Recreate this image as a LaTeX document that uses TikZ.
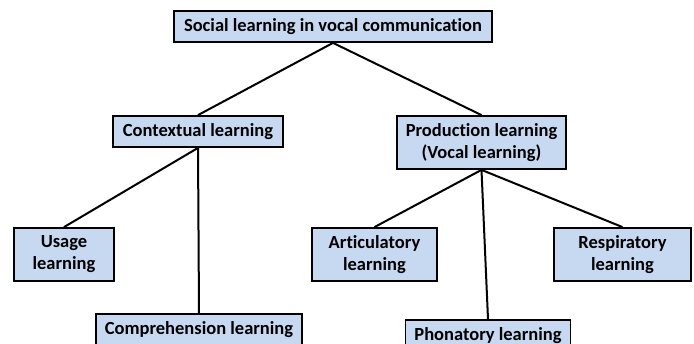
\documentclass[tikz,border=0pt]{standalone}
\usepackage{fontspec}
\setmainfont{Carlito}[Ligatures=NoCommon]
\usetikzlibrary{positioning}
\definecolor{boxblue}{RGB}{198,217,241}

\begin{document}
\begin{tikzpicture}[x=1pt, y=-1pt,
        learnbox/.style={rectangle, draw=black, fill=boxblue, line width=1.8pt, inner sep=0pt, align=center, font=\bfseries\fontsize{18.5}{22}\selectfont},
        branch/.style={draw=black, line width=2pt}]

        \clip (0,0) rectangle (694,344);

        % top level
        \node[learnbox, minimum width=318pt, minimum height=31pt] (social) at (333,26.5) {Social learning in vocal communication};

        % second level
        \node[learnbox, minimum width=170pt, minimum height=31pt] (context) at (198,131.5) {Contextual learning};
        \node[learnbox, minimum width=169pt, minimum height=53pt] (product) at (481.5,142.5) {Production learning\\(Vocal learning)};

        % third level
        \node[learnbox, minimum width=100pt, minimum height=53pt] (usage) at (64,254.5) {Usage\\learning};
        \node[learnbox, minimum width=206pt, minimum height=31pt] (compre) at (199,329.5) {Comprehension learning};
        \node[learnbox, minimum width=125pt, minimum height=53pt] (artic) at (374.5,254.5) {Articulatory\\learning};
        \node[learnbox, minimum width=165pt, minimum height=31pt] (phona) at (488,335.5) {Phonatory learning};
        \node[learnbox, minimum width=137pt, minimum height=53pt] (respi) at (622.5,254.5) {Respiratory\\learning};

        \draw[branch] (social.south) -- (context.north);
        \draw[branch] (social.south) -- (product.north);
        \draw[branch] (context.south) -- (usage.north);
        \draw[branch] (context.south) -- (compre.north);
        \draw[branch] (product.south) -- (artic.north);
        \draw[branch] (product.south) -- (phona.north);
        \draw[branch] (product.south) -- (respi.north);

\end{tikzpicture}
\end{document}
